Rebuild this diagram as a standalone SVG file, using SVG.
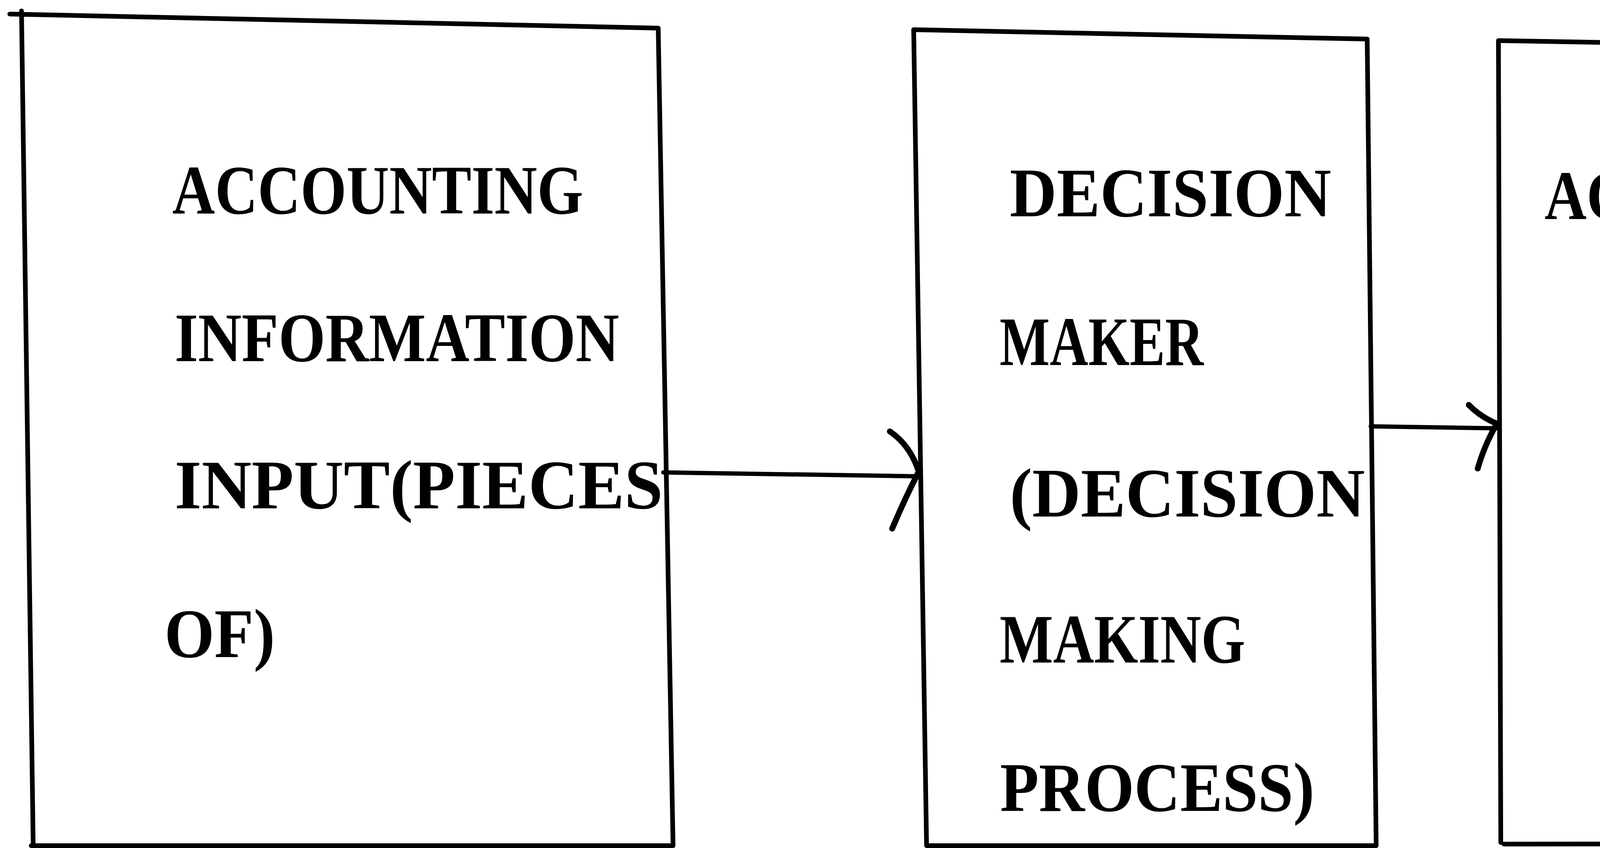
<svg xmlns="http://www.w3.org/2000/svg" width="5553" height="2172" viewBox="0 0 5553 2172">
<style>
.edge{fill:none;stroke:#000;stroke-width:12;stroke-linecap:round;stroke-linejoin:round}
.conn{fill:none;stroke:#000;stroke-width:11;stroke-linecap:round;stroke-linejoin:round}
.head{fill:none;stroke:#000;stroke-width:15;stroke-linecap:round;stroke-linejoin:round}
.lbl{font-family:"Liberation Serif","DejaVu Serif",serif;font-weight:bold;font-size:178px;fill:#000}
</style>
<rect x="0" y="0" width="5553" height="2172" fill="#fff"/>
<g id="node-input">
<path class="edge" d="M25,36 L1685,72 M55,28 L85,2166 M1685,72 L1723,2166 M80,2166 L1723,2166"/>
<text class="lbl" x="441" y="547" textLength="1052" lengthAdjust="spacingAndGlyphs">ACCOUNTING</text>
<text class="lbl" x="447" y="925" textLength="1138" lengthAdjust="spacingAndGlyphs">INFORMATION</text>
<text class="lbl" x="447" y="1302" textLength="1250" lengthAdjust="spacingAndGlyphs">INPUT(PIECES</text>
<text class="lbl" x="421" y="1683" textLength="283" lengthAdjust="spacingAndGlyphs">OF)</text>
</g>
<g id="node-decision-maker">
<path class="edge" d="M2339,76 L3500,100 M2339,76 L2372,2166 M3500,100 L3523,2166 M2372,2166 L3523,2166"/>
<text class="lbl" x="2585" y="554" textLength="823" lengthAdjust="spacingAndGlyphs">DECISION</text>
<text class="lbl" x="2559" y="935" textLength="522" lengthAdjust="spacingAndGlyphs">MAKER</text>
<text class="lbl" x="2585" y="1323" textLength="909" lengthAdjust="spacingAndGlyphs">(DECISION</text>
<text class="lbl" x="2559" y="1697" textLength="629" lengthAdjust="spacingAndGlyphs">MAKING</text>
<text class="lbl" x="2560" y="2077" textLength="805" lengthAdjust="spacingAndGlyphs">PROCESS)</text>
</g>
<g id="node-output">
<path class="edge" d="M3836,104 L5461,133 M5511,140 L5500,2168 M3836,104 L3842,2158 M3850,2162 L5456,2160"/>
<text class="lbl" x="3954" y="561" textLength="1037" lengthAdjust="spacingAndGlyphs">ACCOUNTING</text>
<text class="lbl" x="4371" y="953" textLength="1112" lengthAdjust="spacingAndGlyphs">INFORMATION</text>
<text class="lbl" x="4349" y="1337" textLength="1134" lengthAdjust="spacingAndGlyphs">OUTPUT(BUY-</text>
<text class="lbl" x="4349" y="1706" textLength="1016" lengthAdjust="spacingAndGlyphs">HOLD-SELL-</text>
<text class="lbl" x="4352" y="2074" textLength="927" lengthAdjust="spacingAndGlyphs">DECISIONS</text>
</g>
<g id="connectors">
<path class="conn" d="M1698,1210 L2350,1220"/>
<path class="head" d="M2278,1105 Q2330,1140 2352,1208 Q2315,1280 2284,1354"/>
<path class="conn" d="M3509,1092 L3832,1097"/>
<path class="head" d="M3760,1037 Q3790,1068 3832,1085 Q3800,1140 3783,1200"/>
</g>
</svg>
